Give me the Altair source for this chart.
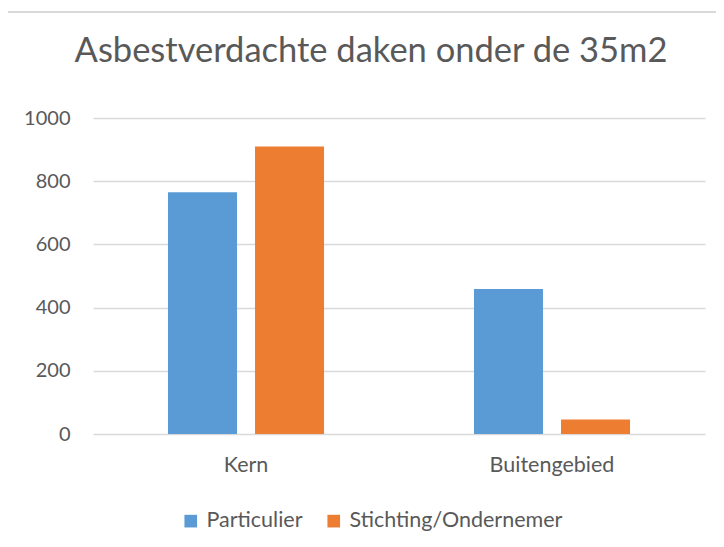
import altair as alt
import pandas as pd

categories = ["Kern", "Kern", "Buitengebied", "Buitengebied"]
series = ["Particulier", "Stichting/Ondernemer", "Particulier", "Stichting/Ondernemer"]
values = [765, 910, 459, 46]

cat_order = ["Kern", "Buitengebied"]
series_order = ["Particulier", "Stichting/Ondernemer"]
colors = ["#5B9BD5", "#ED7D31"]

df = pd.DataFrame({"cat": categories, "serie": series, "value": values})

FONT = "Lato"
GRAY = "#595959"

bars = alt.Chart(df).mark_bar().encode(
    x=alt.X("cat:N", sort=cat_order,
            scale=alt.Scale(paddingInner=0.49, paddingOuter=0.245),
            axis=alt.Axis(title=None, labelAngle=0, domain=False, ticks=False,
                          labelPadding=20, labelFontSize=21.5, labelColor=GRAY,
                          labelFont=FONT)),
    xOffset=alt.XOffset("serie:N", sort=series_order,
                        scale=alt.Scale(paddingInner=0.207, paddingOuter=0)),
    y=alt.Y("value:Q", scale=alt.Scale(domain=[0, 1000]),
            axis=alt.Axis(title=None, values=[0, 200, 400, 600, 800, 1000],
                          format="d",
                          domain=False, ticks=False, labelPadding=23,
                          labelFontSize=20, labelColor=GRAY, labelFont=FONT,
                          gridColor="#D9D9D9", gridWidth=1.3)),
    color=alt.Color("serie:N", sort=series_order,
                    scale=alt.Scale(domain=series_order, range=colors),
                    legend=alt.Legend(title=None, orient="none", direction="horizontal",
                                      legendX=87, legendY=392, symbolType="square",
                                      symbolSize=160, symbolStrokeWidth=0,
                                      labelFontSize=21.5, labelColor=GRAY, labelFont=FONT,
                                      labelLimit=0, columnPadding=20, labelOffset=5)),
)

border_top = alt.Chart(df).mark_rule(color="#D9D9D9", strokeWidth=1.3).encode(
    x=alt.value(-86), x2=alt.value(640), y=alt.value(-106)
)
border_left = alt.Chart(df).mark_rule(color="#D9D9D9", strokeWidth=1.3).encode(
    x=alt.value(-86), y=alt.value(-106), y2=alt.value(440)
)

chart = alt.layer(border_top, border_left, bars).properties(
    width=612, height=316,
    autosize=alt.AutoSizeParams(type="none"),
    padding={"left": 85, "top": 110, "right": 11, "bottom": 100},
    title=alt.Title("Asbestverdachte daken onder de 35m2", fontSize=34.5,
                    font=FONT, fontWeight="normal", color=GRAY,
                    anchor="middle", frame="group", dx=-28, offset=-58),
).configure(background="white").configure_view(stroke=None)

chart.save("out.html", embed_options={"renderer": "svg", "actions": False})
